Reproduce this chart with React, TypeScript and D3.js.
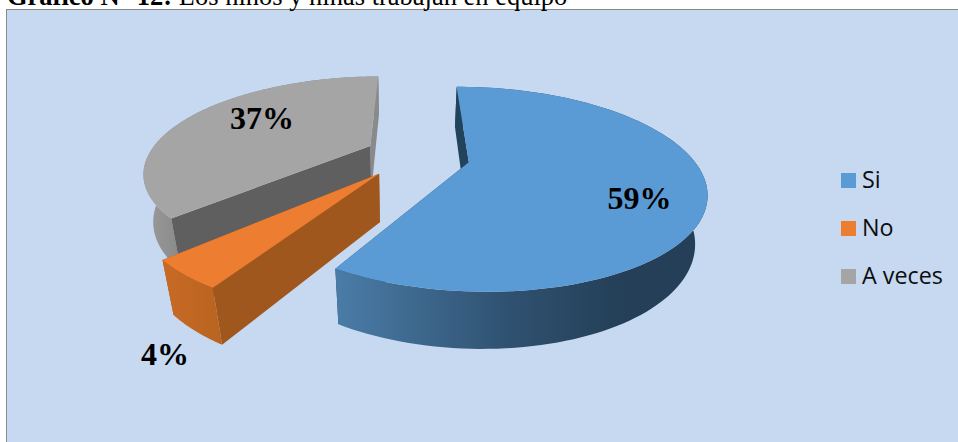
import React from "react";
import * as d3 from "d3";

const categories = ["Si", "No", "A veces"];
const values = [58.6, 4.4, 37];
const labels = ["59%", "4%", "37%"];
const topColors = ["#5b9bd5", "#ed7d31", "#a5a5a5"];
const startWallColors = ["#21435c", "#a0571e", "#5f5f5f"];
const endWallColors = ["#21435c", "#a0571e", "#8a8a8a"];
const blueWallStops = ["#4a7ca8", "#2f5170", "#243f57"];
const wallGradients = [
  ["#c86a26", "#b8641f"],
  ["#9c9c9c", "#8a8a8a"],
];
const explodes = [0.22, 0.22, 0.24];
const nudgeX = [0.012, -0.03, 0];
const nudgeZ = [0, 0, -0.03];
const labelPos = [[639.5, 209], [165, 365], [262, 129]];
const legendY = [180, 228, 276];

const W = 958, H = 442;
const ox = 418, oy = 157, A = 223, B = 92.6, b = 0.259;
const VPx = 399, VPy = 1438, thick = 0.0381;

type P = [number, number];
function project(X: number, Z: number, t: number): P {
  const w = 1 - b * Z;
  const d = w + t;
  return [
    (ox * w + A * X + t * VPx) / d,
    (oy * w + B * Z + t * VPy) / d,
  ];
}

const pieGen = d3.pie<number>().sort(null)
  .startAngle((-0.5 * Math.PI) / 180)
  .endAngle((359.5 * Math.PI) / 180);
const arcs = pieGen(values);

const poly = d3.line<P>().x((d) => d[0]).y((d) => d[1]);

function slicePaths(a: d3.PieArcDatum<number>, i: number) {
  const mid = (a.startAngle + a.endAngle) / 2;
  const cx = explodes[i] * Math.sin(mid) + nudgeX[i];
  const cz = -explodes[i] * Math.cos(mid) + nudgeZ[i];
  const steps = d3.range(0, 121).map((k) => a.startAngle + ((a.endAngle - a.startAngle) * k) / 120);
  const rim = steps.map((t) => [cx + Math.sin(t), cz - Math.cos(t)] as P);
  const apex: P = [cx, cz];
  const topPts = [apex, ...rim].map((p) => project(p[0], p[1], 0));
  const quad = (p: P) => [project(apex[0], apex[1], 0), project(p[0], p[1], 0), project(p[0], p[1], thick), project(apex[0], apex[1], thick)] as P[];
  const outer = rim.slice(1).map((p, k) => {
    const q = rim[k];
    const pts = [project(q[0], q[1], 0), project(p[0], p[1], 0), project(p[0], p[1], thick), project(q[0], q[1], thick)];
    return poly(pts) + "Z";
  }).join("");
  return {
    top: poly(topPts) + "Z",
    startWall: poly(quad(rim[0])) + "Z",
    endWall: poly(quad(rim[rim.length - 1])) + "Z",
    outer,
  };
}

const order = [2, 1, 0];

export default function App() {
  return (
    <svg width={W} height={H} style={{ position: "absolute", left: 0, top: 0 }}>
      <defs>
        <linearGradient id="g0" gradientUnits="userSpaceOnUse" x1={336} x2={625} y1={0} y2={0}>
          <stop offset="0" stopColor={blueWallStops[0]} />
          <stop offset="0.6" stopColor={blueWallStops[1]} />
          <stop offset="1" stopColor={blueWallStops[2]} />
        </linearGradient>
        <linearGradient id="g1" gradientUnits="userSpaceOnUse" x1={163} x2={222} y1={0} y2={0}>
          <stop offset="0" stopColor={wallGradients[0][0]} />
          <stop offset="1" stopColor={wallGradients[0][1]} />
        </linearGradient>
        <linearGradient id="g2" gradientUnits="userSpaceOnUse" x1={142} x2={180} y1={0} y2={0}>
          <stop offset="0" stopColor={wallGradients[1][0]} />
          <stop offset="1" stopColor={wallGradients[1][1]} />
        </linearGradient>
      </defs>
      <rect x={0} y={0} width={W} height={H} fill="#ffffff" />
      <rect x={6.5} y={9.5} width={W} height={H} fill="#c6d9f1" stroke="#8a8a8a" strokeWidth={1} />
      <text x={7} y={5} fontFamily="Liberation Serif" fontSize={26.5}>
        <tspan fontWeight="bold">Gráfico N° 12:</tspan> Los niños y niñas trabajan en equipo
      </text>
      {order.map((i) => {
        const p = slicePaths(arcs[i], i);
        return (
          <g key={categories[i]}>
            <path d={p.endWall} fill={endWallColors[i]} />
            <path d={p.outer} fill={`url(#g${i})`} />
            <path d={p.startWall} fill={startWallColors[i]} />
            <path d={p.top} fill={topColors[i]} />
          </g>
        );
      })}
      {labels.map((l, i) => (
        <text key={l} x={labelPos[i][0]} y={labelPos[i][1]} textAnchor="middle" fontFamily="Liberation Serif" fontWeight="bold" fontSize={32} fill="#000">
          {l}
        </text>
      ))}
      {categories.map((c, i) => (
        <g key={c}>
          <rect x={841} y={legendY[i] - 7} width={15} height={15} fill={topColors[i]} />
          <text x={862} y={legendY[i] + 8} fontFamily="Open Sans" fontSize={23.3} fill="#0d0d0d">
            {c}
          </text>
        </g>
      ))}
    </svg>
  );
}
